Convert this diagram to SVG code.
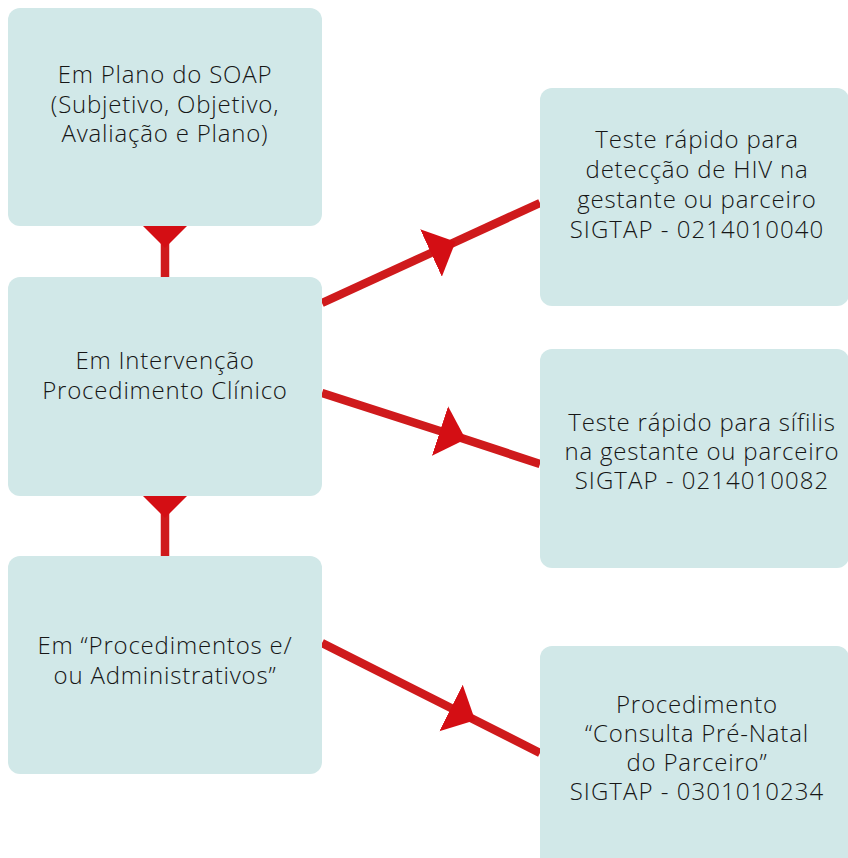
<svg xmlns="http://www.w3.org/2000/svg" width="848" height="858" viewBox="0 0 848 858">
<style>
.box{fill:#d1e8e8}
.t{font-family:"Open Sans","Noto Sans","Liberation Sans",sans-serif;font-size:24px;font-weight:350;fill:#161616;text-anchor:middle;letter-spacing:0.8px}
.code{letter-spacing:1.05px}
.c{fill:none;stroke:#cf1a1c;stroke-width:8.5}
</style>
<defs>
<marker id="av" markerUnits="userSpaceOnUse" orient="auto" markerWidth="30" markerHeight="50" refX="0" refY="22" viewBox="0 0 30 44">
<path d="M0,0 L22,22 L0,44 Z" fill="#d40e14"/>
</marker>
<marker id="ad" markerUnits="userSpaceOnUse" orient="auto" markerWidth="30" markerHeight="54" refX="0" refY="26" viewBox="0 0 30 52">
<path d="M0,0 L27,26 L0,52 Z" fill="#d40e14"/>
</marker>
</defs>
<g id="connectors">
<line class="c" x1="165" y1="226" x2="165" y2="277" marker-start="url(#av)"/>
<line class="c" x1="165" y1="496" x2="165" y2="556" marker-start="url(#av)"/>
<polyline class="c" points="322,303 431,253 540,203" marker-mid="url(#ad)"/>
<polyline class="c" points="322,393 440,431 540,464" marker-mid="url(#ad)"/>
<polyline class="c" points="322,643 451,708 540,753" marker-mid="url(#ad)"/>
</g>
<g id="n1">
<rect class="box" x="8" y="8" width="314" height="218" rx="12"/>
<text class="t" x="165" y="83">Em Plano do SOAP</text>
<text class="t" x="165" y="112.5">(Subjetivo, Objetivo,</text>
<text class="t" x="165" y="142">Avaliação e Plano)</text>
</g>
<g id="n2">
<rect class="box" x="8" y="277" width="314" height="219" rx="12"/>
<text class="t" x="165" y="369">Em Intervenção</text>
<text class="t" x="165" y="399">Procedimento Clínico</text>
</g>
<g id="n3">
<rect class="box" x="8" y="556" width="314" height="218" rx="12"/>
<text class="t" x="165" y="654">Em “Procedimentos e/</text>
<text class="t" x="165" y="684">ou Administrativos”</text>
</g>
<g id="n4">
<rect class="box" x="540" y="88" width="309" height="218" rx="12"/>
<text class="t" x="697" y="148">Teste rápido para</text>
<text class="t" x="697" y="178">detecção de HIV na</text>
<text class="t" x="697" y="208">gestante ou parceiro</text>
<text class="t code" x="697" y="237.5">SIGTAP - 0214010040</text>
</g>
<g id="n5">
<rect class="box" x="540" y="349" width="309" height="219" rx="12"/>
<text class="t" x="702" y="431">Teste rápido para sífilis</text>
<text class="t" x="702" y="460">na gestante ou parceiro</text>
<text class="t code" x="702" y="489">SIGTAP - 0214010082</text>
</g>
<g id="n6">
<rect class="box" x="540" y="646" width="309" height="230" rx="12"/>
<text class="t" x="697" y="713">Procedimento</text>
<text class="t" x="697" y="742">“Consulta Pré-Natal</text>
<text class="t" x="697" y="771">do Parceiro”</text>
<text class="t code" x="697" y="800">SIGTAP - 0301010234</text>
</g>
</svg>
